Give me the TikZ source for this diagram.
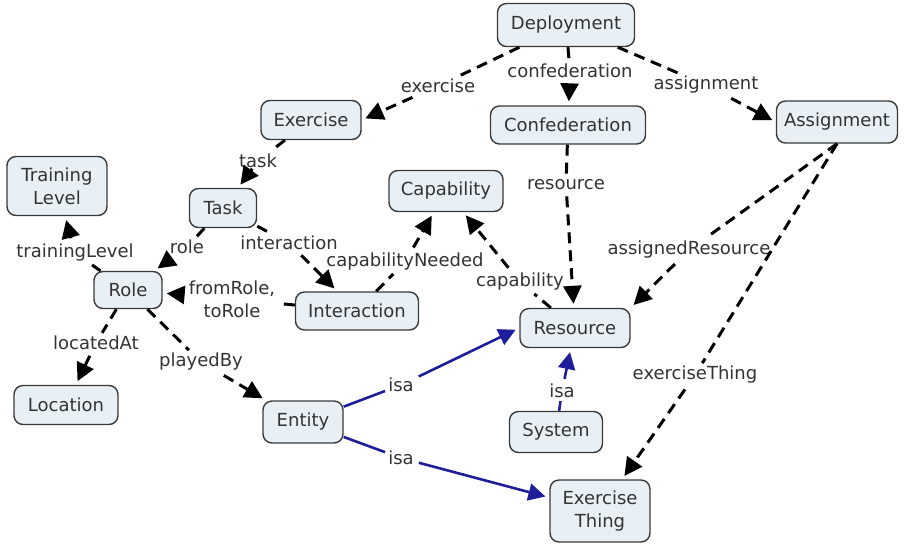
\documentclass[tikz,border=0pt]{standalone}
\usepackage{fontspec}
\setmainfont{DejaVu Sans}
\usetikzlibrary{arrows.meta}
\definecolor{boxfill}{HTML}{E8F0F5}
\definecolor{boxline}{HTML}{3A3A3A}
\definecolor{txt}{HTML}{333333}
\definecolor{isablue}{HTML}{1E1E9A}
\begin{document}
\begin{tikzpicture}[x=1pt,y=-1pt,
  concept/.style={draw=boxline, line width=1.4pt, fill=boxfill, rounded corners=9pt,
    text=txt, font=\fontsize{18}{23}\selectfont, inner sep=0pt, align=center},
  lbl/.style={fill=white, text=txt, font=\fontsize{18}{23}\selectfont, inner sep=3pt, align=center},
  rel/.style={draw=black, line width=3pt, dash pattern=on 11pt off 7pt,
    -{Triangle[length=18pt,width=18pt]}, shorten >=4pt, shorten <=3pt},
  isarel/.style={draw=isablue, line width=2.6pt,
    -{Triangle[length=17pt,width=17pt]}, shorten >=4pt, shorten <=2pt}
]
\useasboundingbox (0,0) rectangle (909,547);

% concepts
\node[concept, minimum width=137pt, minimum height=43pt] (dep) at (566,25) {Deployment};
\node[concept, minimum width=100pt, minimum height=39pt] (ex) at (311,120) {Exercise};
\node[concept, minimum width=155pt, minimum height=38pt] (conf) at (568,125) {Confederation};
\node[concept, minimum width=121pt, minimum height=42pt] (asg) at (837,122) {Assignment};
\node[concept, minimum width=100pt, minimum height=59pt] (tl) at (57,186) {Training\\Level};
\node[concept, minimum width=114pt, minimum height=41pt] (cap) at (446,191) {Capability};
\node[concept, minimum width=67pt, minimum height=39pt] (task) at (223,208) {Task};
\node[concept, minimum width=68pt, minimum height=37pt] (role) at (128,290) {Role};
\node[concept, minimum width=123pt, minimum height=38pt] (inter) at (357,311) {Interaction};
\node[concept, minimum width=110pt, minimum height=39pt] (res) at (575,328) {Resource};
\node[concept, minimum width=104pt, minimum height=39pt] (loc) at (66,405) {Location};
\node[concept, minimum width=80pt, minimum height=42pt] (ent) at (303,422) {Entity};
\node[concept, minimum width=93pt, minimum height=41pt] (sys) at (556,432) {System};
\node[concept, minimum width=100pt, minimum height=62pt] (et) at (600,511) {Exercise\\Thing};

% linking phrases
\node[lbl] (lex) at (438,86) {exercise};
\node[lbl] (lconf) at (570,71) {confederation};
\node[lbl] (lasg) at (706,85) {assignment};
\node[lbl] (ltask) at (258,161) {task};
\node[lbl] (lres) at (566,185) {resource};
\node[lbl] (ltl) at (75,253) {trainingLevel};
\node[lbl] (lrole) at (187,247) {role};
\node[lbl] (linter) at (289,243) {interaction};
\node[lbl] (lcapn) at (405,262) {capabilityNeeded};
\node[lbl] (lcap) at (520,282) {capability};
\node[lbl] (lares) at (689,250) {assignedResource};
\node[lbl] (lfrom) at (232,299) {fromRole,\\toRole};
\node[lbl] (lloc) at (96,343) {locatedAt};
\node[lbl] (lplay) at (201,362) {playedBy};
\node[lbl] (lisa1) at (401,385) {isa};
\node[lbl] (lisa2) at (401,458) {isa};
\node[lbl] (lisa3) at (562,391) {isa};
\node[lbl] (lext) at (695,375) {exerciseThing};

% relations
\draw[rel] (dep) -- (lex) -- (ex.east);
\draw[rel] (dep) -- (lconf) -- (conf);
\draw[rel] (dep) -- (lasg) -- (asg.west);
\draw[rel] (ex) -- (ltask) -- (task);
\draw[rel] (conf) -- (lres) -- (res);
\draw[rel] (asg.south) -- (lares) -- (res.north east);
\draw[rel] (asg.south) -- (lext) -- (et);
\draw[rel] (task) -- (lrole) -- (role);
\draw[rel] (task) -- (linter) -- (inter);
\draw[rel] (inter) -- (lcapn) -- (cap);
\draw[rel] (res) -- (lcap) -- (cap);
\draw[rel] (inter) -- (lfrom) -- (role);
\draw[rel] (role) -- (ltl) -- (tl);
\draw[rel] (role) -- (lloc) -- (loc);
\draw[rel] (role) -- (lplay) -- (ent);
\draw[isarel] (ent) -- (lisa1) -- (res.west);
\draw[isarel] (ent) -- (lisa2) -- (et);
\draw[isarel] (sys) -- (lisa3) -- (res);
\end{tikzpicture}
\end{document}
